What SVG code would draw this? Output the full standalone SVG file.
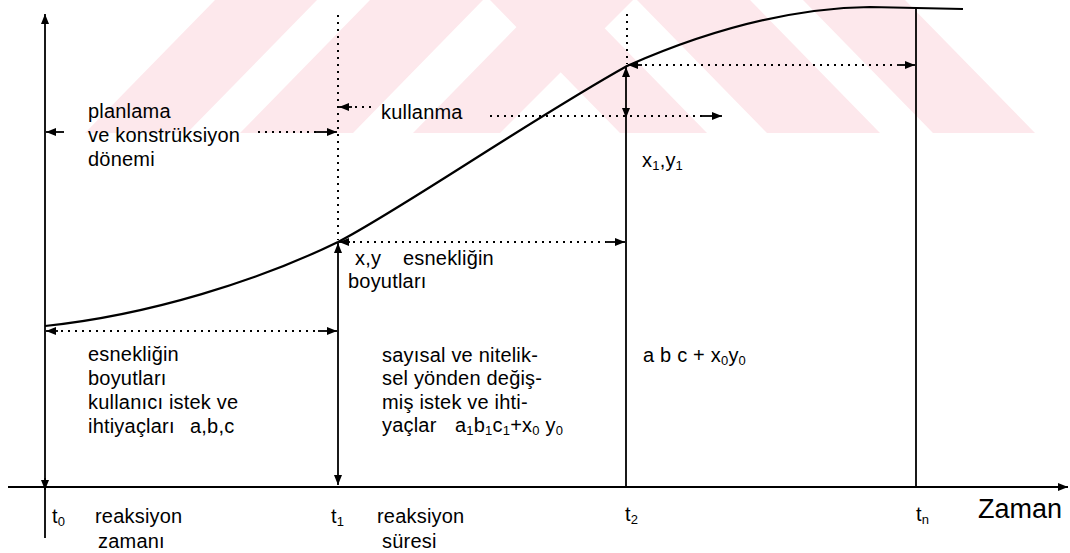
<svg xmlns="http://www.w3.org/2000/svg" width="1070" height="553" viewBox="0 0 1070 553">
<style>
.wm{fill:#fde8ec;stroke:none}
.s{stroke:#000;stroke-width:1.8;fill:none}
.d{stroke:#000;stroke-width:2;fill:none;stroke-dasharray:2 5}
.c{stroke:#000;stroke-width:2.2;fill:none}
text{font-family:"Liberation Sans",Arial,sans-serif;font-size:20px;fill:#000;letter-spacing:0.2px}
.big{font-size:27px;letter-spacing:0}
.sub{font-size:13px}
</style>
<defs>
<marker id="ah" viewBox="0 0 10 8" refX="10" refY="4" markerWidth="10" markerHeight="8" orient="auto-start-reverse" markerUnits="userSpaceOnUse">
<path d="M0,0 L10,4 L0,8 z" fill="#000"/>
</marker>
</defs>
<rect width="1070" height="553" fill="#fff"/>
<g id="watermark">
<polygon class="wm" points="85,133 187,133 317,0 215,0"/>
<polygon class="wm" points="240,133 353,133 483,0 370,0"/>
<polygon class="wm" points="413,133 500,133 633,0 543,0"/>
<polygon class="wm" points="620,133 707,133 577,0 490,0"/>
<polygon class="wm" points="767,133 880,133 750,0 637,0"/>
<polygon class="wm" points="933,133 1035,133 905,0 803,0"/>
</g>
<g id="connectors">
<line class="s" x1="45" y1="538" x2="45" y2="14" marker-end="url(#ah)"/>
<line class="s" x1="8" y1="487" x2="1068" y2="487" marker-end="url(#ah)"/>
<line class="s" x1="45" y1="478" x2="45" y2="490" marker-end="url(#ah)"/>
<line class="d" x1="338" y1="15" x2="338" y2="240"/>
<line class="s" x1="338" y1="243" x2="338" y2="485" marker-start="url(#ah)" marker-end="url(#ah)"/>
<line class="d" x1="627" y1="14" x2="627" y2="64"/>
<line class="s" x1="626" y1="67" x2="626" y2="118" marker-start="url(#ah)" marker-end="url(#ah)"/>
<line class="s" x1="626" y1="118" x2="626" y2="487"/>
<line class="s" x1="916" y1="9" x2="916" y2="487"/>
<path class="c" d="M45,326 C150,315 260,280 338,242 C400,210 530,120 627,66 C720,25 800,8 870,7 L963,9"/>
<line class="s" x1="628" y1="65" x2="642" y2="65" marker-start="url(#ah)"/>
<line class="d" x1="645" y1="65" x2="897" y2="65"/>
<line class="s" x1="897" y1="65" x2="915" y2="65" marker-end="url(#ah)"/>
<line class="s" x1="339" y1="107" x2="352" y2="107" marker-start="url(#ah)"/>
<line class="d" x1="355" y1="107" x2="372" y2="107"/>
<line class="d" x1="490" y1="116" x2="702" y2="116"/>
<line class="s" x1="702" y1="116" x2="722" y2="116" marker-end="url(#ah)"/>
<line class="s" x1="46" y1="132" x2="64" y2="132" marker-start="url(#ah)"/>
<line class="d" x1="258" y1="132" x2="316" y2="132"/>
<line class="s" x1="316" y1="132" x2="337" y2="132" marker-end="url(#ah)"/>
<line class="s" x1="339" y1="242" x2="350" y2="242" marker-start="url(#ah)"/>
<line class="d" x1="353" y1="242" x2="606" y2="242"/>
<line class="s" x1="606" y1="242" x2="625" y2="242" marker-end="url(#ah)"/>
<line class="s" x1="46" y1="331" x2="58" y2="331" marker-start="url(#ah)"/>
<line class="d" x1="61" y1="331" x2="318" y2="331"/>
<line class="s" x1="318" y1="331" x2="337" y2="331" marker-end="url(#ah)"/>
</g>
<g id="planlama">
<text x="88" y="118">planlama</text>
<text x="88" y="142">ve konstrüksiyon</text>
<text x="88" y="166">dönemi</text>
</g>
<g id="kullanma"><text x="381" y="119">kullanma</text></g>
<g id="x1y1"><text x="642" y="167">x<tspan class="sub" dy="3">1</tspan><tspan dy="-3">,y</tspan><tspan class="sub" dy="3">1</tspan></text></g>
<g id="xy">
<text x="355" y="265">x,y</text>
<text x="403" y="265">esnekliğin</text>
<text x="348" y="288">boyutları</text>
</g>
<g id="left-block">
<text x="88" y="361">esnekliğin</text>
<text x="88" y="385">boyutları</text>
<text x="88" y="409">kullanıcı istek ve</text>
<text x="88" y="433">ihtiyaçları</text>
<text x="190" y="433">a,b,c</text>
</g>
<g id="mid-block">
<text x="382" y="362">sayısal ve nitelik-</text>
<text x="382" y="385">sel yönden değiş-</text>
<text x="382" y="409">miş istek ve ihti-</text>
<text x="382" y="432">yaçlar</text>
<text x="455" y="432">a<tspan class="sub" dy="3">1</tspan><tspan dy="-3">b</tspan><tspan class="sub" dy="3">1</tspan><tspan dy="-3">c</tspan><tspan class="sub" dy="3">1</tspan><tspan dy="-3">+x</tspan><tspan class="sub" dy="3">0</tspan><tspan dy="-3"> y</tspan><tspan class="sub" dy="3">0</tspan></text>
</g>
<g id="right-block"><text x="643" y="362">a b c + x<tspan class="sub" dy="3">0</tspan><tspan dy="-3">y</tspan><tspan class="sub" dy="3">0</tspan></text></g>
<g id="axis-labels">
<text x="52" y="523">t<tspan class="sub" dy="3">0</tspan></text>
<text x="95" y="523">reaksiyon</text>
<text x="98" y="548">zamanı</text>
<text x="331" y="523">t<tspan class="sub" dy="3">1</tspan></text>
<text x="377" y="523">reaksiyon</text>
<text x="382" y="548">süresi</text>
<text x="625" y="521">t<tspan class="sub" dy="3">2</tspan></text>
<text x="916" y="521">t<tspan class="sub" dy="3">n</tspan></text>
<text class="big" x="978" y="518">Zaman</text>
</g>
</svg>
